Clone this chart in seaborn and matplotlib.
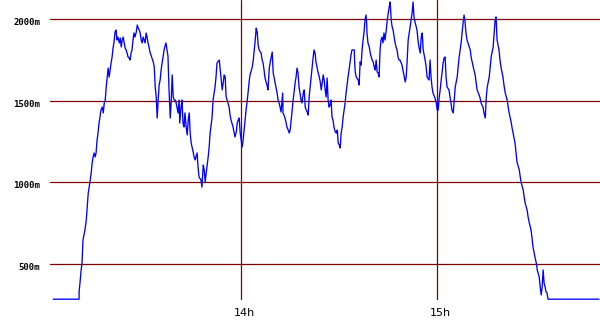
import matplotlib
matplotlib.use("Agg")
import matplotlib.pyplot as plt
import seaborn as sns
import pandas as pd

# Elapsed time in minutes after 13:00
minutes = [
    2.7, 10.6, 10.6, 10.9, 11.2, 11.5, 11.8, 12.4, 12.8, 13.1, 13.4, 13.7, 14.0, 14.3, 14.6, 14.9,
    15.2, 15.5, 15.8, 16.1, 16.4, 16.7, 17.0, 17.3, 17.7, 18.0, 18.3, 18.6, 18.9, 19.2, 19.5, 19.8,
    20.1, 20.4, 20.7, 21.0, 21.3, 21.6, 21.9, 22.2, 22.5, 22.9, 23.2, 23.5, 23.8, 24.1, 24.4, 24.7,
    25.0, 25.6, 25.9, 26.2, 26.5, 26.8, 27.1, 27.4, 27.7, 28.1, 28.4, 28.7, 29.0, 29.3, 29.6, 29.9,
    30.2, 30.5, 30.8, 31.1, 31.4, 31.7, 32.0, 32.3, 32.6, 32.9, 33.3, 33.6, 33.9, 34.2, 34.5, 34.8,
    35.1, 35.4, 35.7, 36.0, 36.3, 36.6, 36.9, 37.2, 37.5, 37.8, 38.1, 38.5, 38.8, 39.1, 39.4, 39.7,
    40.0, 40.3, 40.9, 41.2, 41.4, 41.8, 42.1, 42.4, 42.7, 43.0, 43.4, 43.7, 44.0, 44.3, 44.6, 44.9,
    45.5, 45.8, 46.1, 46.7, 47.0, 47.3, 47.9, 48.2, 48.6, 48.9, 49.2, 49.5, 50.1, 50.4, 50.7, 51.3,
    51.6, 52.2, 52.5, 52.8, 53.5, 53.8, 54.1, 54.4, 54.7, 55.0, 55.3, 55.6, 55.9, 56.5, 56.8, 57.1,
    57.7, 58.0, 58.3, 58.7, 59.0, 59.3, 59.6, 59.9, 60.2, 60.5, 60.8, 61.1, 61.4, 61.7, 62.0, 62.3,
    62.6, 62.9, 63.6, 63.9, 64.2, 64.5, 64.8, 65.1, 65.4, 65.7, 66.3, 66.6, 66.9, 67.2, 67.5, 67.8,
    68.1, 68.4, 68.8, 69.1, 69.4, 69.7, 70.0, 70.3, 70.6, 70.9, 71.2, 71.5, 71.8, 72.1, 72.4, 72.7,
    72.9, 73.0, 73.3, 73.6, 73.9, 74.2, 74.6, 74.9, 75.2, 75.5, 75.8, 76.1, 76.4, 76.7, 77.0, 77.3,
    77.6, 77.9, 78.2, 78.5, 78.8, 79.2, 79.5, 79.8, 80.1, 80.4, 80.7, 81.0, 81.3, 81.6, 81.9, 82.2,
    82.5, 82.8, 83.1, 83.4, 83.7, 84.1, 84.4, 84.7, 85.0, 85.3, 85.6, 85.9, 86.2, 86.5, 86.8, 87.1,
    87.4, 87.7, 88.0, 88.3, 88.6, 89.0, 89.3, 89.6, 89.9, 90.2, 90.5, 90.8, 91.1, 91.4, 92.0, 92.3,
    92.6, 92.9, 93.2, 93.5, 93.8, 94.1, 94.8, 94.9, 95.1, 95.4, 96.0, 96.3, 96.6, 96.9, 97.2, 97.5,
    97.8, 98.1, 98.4, 98.6, 98.7, 99.0, 99.4, 99.7, 100.0, 100.3, 100.6, 100.9, 101.2, 101.5, 101.8, 102.1,
    102.4, 102.7, 103.0, 103.3, 103.6, 103.9, 104.2, 104.6, 104.9, 105.2, 105.5, 105.8, 106.1, 106.4, 106.7, 107.0,
    107.3, 107.6, 107.9, 108.2, 108.5, 108.8, 109.4, 109.8, 110.4, 110.7, 111.0, 111.3, 111.9, 112.5, 112.8, 113.1,
    113.4, 114.0, 114.3, 114.6, 115.0, 115.3, 115.6, 115.9, 116.5, 116.8, 117.1, 117.7, 118.0, 118.3, 118.6, 118.9,
    119.5, 119.9, 120.2, 120.5, 120.8, 121.1, 121.4, 121.7, 122.0, 122.3, 122.6, 122.9, 123.2, 123.8, 124.1, 124.4,
    124.7, 125.1, 125.4, 125.7, 126.3, 126.6, 126.9, 127.5, 127.8, 128.1, 128.4, 128.7, 129.0, 129.3, 129.6, 130.0,
    130.3, 130.6, 130.9, 131.2, 131.8, 132.1, 132.4, 133.0, 133.3, 133.6, 134.2, 134.5, 134.9, 135.2, 135.5, 136.1,
    136.4, 136.7, 137.3, 137.6, 137.9, 138.2, 138.5, 139.1, 139.4, 139.7, 140.3, 140.7, 141.0, 141.6, 141.9, 142.2,
    142.8, 143.1, 143.4, 144.0, 144.3, 144.6, 145.3, 145.6, 145.9, 146.5, 146.8, 147.1, 147.7, 148.0, 148.3, 148.9,
    149.2, 149.5, 150.1, 150.5, 150.8, 151.4, 151.7, 152.0, 152.3, 152.6, 152.9, 153.2, 153.5, 153.8, 154.1, 169.7,
]

# Altitude in metres
altitude = [
    285, 285, 329, 390, 458, 507, 648, 709, 770, 850, 935, 972, 1015, 1058, 1119, 1156,
    1181, 1156, 1181, 1260, 1303, 1364, 1401, 1444, 1462, 1426, 1487, 1505, 1585, 1646, 1701, 1646,
    1689, 1732, 1769, 1824, 1861, 1922, 1934, 1873, 1891, 1855, 1885, 1830, 1873, 1891, 1855, 1824,
    1812, 1769, 1763, 1750, 1793, 1812, 1873, 1916, 1891, 1922, 1965, 1946, 1934, 1916, 1873, 1855,
    1891, 1873, 1855, 1916, 1891, 1855, 1830, 1799, 1781, 1763, 1738, 1708, 1585, 1524, 1395, 1505,
    1597, 1628, 1689, 1732, 1769, 1812, 1836, 1855, 1812, 1775, 1579, 1395, 1505, 1659, 1524, 1505,
    1505, 1487, 1426, 1505, 1364, 1462, 1505, 1364, 1340, 1426, 1334, 1291, 1383, 1426, 1303, 1242,
    1187, 1156, 1138, 1181, 1095, 1034, 1015, 972, 1107, 1077, 1003, 1058, 1156, 1217, 1303, 1401,
    1505, 1585, 1646, 1732, 1750, 1689, 1628, 1567, 1610, 1659, 1646, 1524, 1505, 1462, 1413, 1383,
    1340, 1309, 1279, 1309, 1364, 1383, 1395, 1303, 1260, 1217, 1260, 1321, 1383, 1444, 1493, 1548,
    1610, 1659, 1708, 1750, 1812, 1873, 1946, 1922, 1842, 1812, 1793, 1750, 1732, 1689, 1640, 1616,
    1597, 1567, 1701, 1738, 1769, 1799, 1671, 1640, 1610, 1579, 1548, 1505, 1487, 1462, 1432, 1505,
    1548, 1426, 1413, 1395, 1371, 1340, 1321, 1303, 1321, 1383, 1444, 1505, 1554, 1610, 1646, 1701,
    1671, 1585, 1548, 1505, 1487, 1548, 1567, 1462, 1444, 1432, 1413, 1524, 1585, 1646, 1708, 1763,
    1812, 1793, 1738, 1708, 1677, 1646, 1616, 1567, 1610, 1659, 1628, 1567, 1524, 1640, 1505, 1462,
    1475, 1505, 1401, 1383, 1340, 1309, 1303, 1321, 1242, 1230, 1211, 1303, 1340, 1401, 1487, 1548,
    1597, 1646, 1689, 1732, 1781, 1812, 1812, 1750, 1677, 1646, 1628, 1597, 1738, 1720, 1812, 1873,
    1922, 1995, 2026, 1977, 1916, 1855, 1830, 1793, 1769, 1750, 1738, 1708, 1689, 1750, 1677, 1671,
    1646, 1812, 1873, 1891, 1855, 1916, 1873, 1934, 1995, 2038, 2075, 2106, 1995, 1953, 1934, 1891,
    1855, 1830, 1812, 1769, 1750, 1750, 1720, 1677, 1616, 1646, 1750, 1873, 1953, 2038, 2106, 2008,
    1983, 1934, 1873, 1830, 1793, 1891, 1916, 1812, 1750, 1708, 1646, 1628, 1750, 1646, 1585, 1548,
    1518, 1487, 1444, 1444, 1524, 1567, 1628, 1677, 1732, 1763, 1769, 1646, 1585, 1567, 1524, 1487,
    1444, 1426, 1505, 1585, 1646, 1708, 1769, 1855, 1916, 1977, 2026, 1983, 1916, 1873, 1855, 1830,
    1812, 1763, 1738, 1708, 1659, 1610, 1567, 1536, 1518, 1487, 1462, 1426, 1395, 1524, 1585, 1646,
    1708, 1769, 1830, 1916, 1995, 2014, 1873, 1812, 1750, 1708, 1646, 1585, 1548, 1505, 1462, 1426,
    1371, 1334, 1303, 1242, 1181, 1125, 1077, 1034, 997, 954, 911, 874, 831, 789, 758, 709,
    660, 605, 543, 507, 464, 421, 360, 311, 360, 464, 384, 360, 329, 323, 285, 285,
]

y_grid = [500, 1000, 1500, 2000]
y_labels = ["500m", "1000m", "1500m", "2000m"]
x_grid = [60, 120]
x_labels = ["14h", "15h"]

df = pd.DataFrame({"minutes": minutes, "altitude": altitude})

sns.set_theme(style="white")
plt.rcParams["font.family"] = ["DejaVu Sans"]

fig = plt.figure(figsize=(6.0, 3.3), dpi=100)
ax = fig.add_axes([50 / 600, 30 / 330, 550 / 600, 300 / 330])

grid_color = "#800000"
for v in y_grid:
    ax.axhline(v, color=grid_color, lw=0.9, zorder=1)
for v in x_grid:
    ax.axvline(v, color=grid_color, lw=0.9, zorder=1)

sns.lineplot(data=df, x="minutes", y="altitude", estimator=None, sort=False,
             color="#0000FF", lw=0.95, ax=ax, zorder=3)

ax.set_xlim(1.7, 170.0)
ax.set_ylim(280, 2118)
for s in ax.spines.values():
    s.set_visible(False)
ax.set_xticks([])
ax.set_yticks([])
ax.set_xlabel("")
ax.set_ylabel("")

for v, lab in zip(y_grid, y_labels):
    ax.annotate(lab, xy=(0, v), xycoords=("axes fraction", "data"),
                xytext=(-7.2, -2.3), textcoords="offset points",
                ha="right", va="center", fontsize=6.5, fontweight="bold",
                family="DejaVu Sans Mono", color="black")

for v, lab in zip(x_grid, x_labels):
    ax.annotate(lab, xy=(v, 0), xycoords=("data", "axes fraction"),
                xytext=(2.5, -9.0), textcoords="offset points",
                ha="center", va="center", fontsize=8, color="black")

fig.savefig("out.png", dpi=100, facecolor="white")
